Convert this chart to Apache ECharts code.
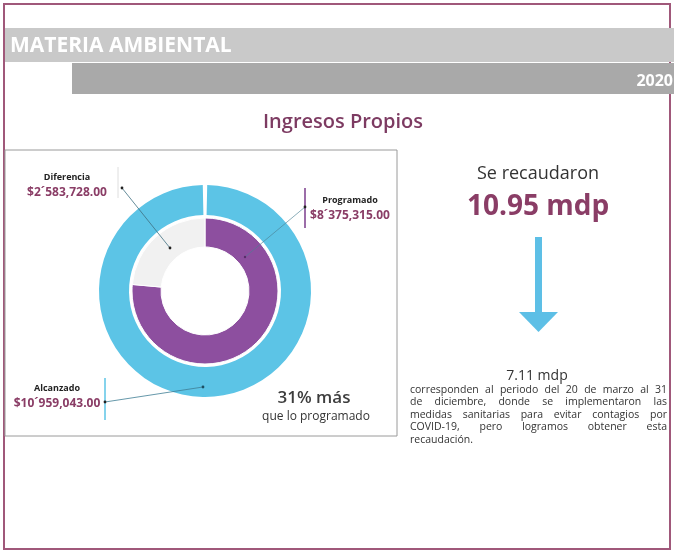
<!DOCTYPE html>
<html>
<head>
<meta charset="utf-8">
<script src="https://cdn.jsdelivr.net/npm/echarts@6/dist/echarts.min.js"></script>
<style>
html,body{margin:0;padding:0;background:#fff;}
#c{width:674px;height:554px;}
</style>
</head>
<body>
<div id="c"></div>
<script>
// ---- data ----
const innerCategories = ['Programado', 'Diferencia'];
const innerValues = [8375315, 2583728];
const outerCategories = ['Alcanzado'];
const outerValues = [10959043];
const headerTitle = 'MATERIA AMBIENTAL';
const headerYear = '2020';
const chartTitle = 'Ingresos Propios';
const summaryIntro = 'Se recaudaron';
const summaryTotal = '10.95 mdp';
const periodAmount = '7.11 mdp';
const periodLines = [
  'corresponden al periodo del 20 de marzo al 31',
  'de diciembre, donde se implementaron las',
  'medidas sanitarias para evitar contagios por',
  'COVID-19, pero logramos obtener esta',
  'recaudación.'
];

// ---- styles ----
const FONT = '"Open Sans", "Liberation Sans", sans-serif';
const CYAN = '#5cc4e6';
const PURPLE = '#8d4f9f';
const GREY = '#f1f1f1';
const MAROON = '#8a3d66';
const FRAME = '#a0587a';

function fmtMoney(v) {
  const m = Math.floor(v / 1e6);
  const r = v % 1e6;
  const th = Math.floor(r / 1000);
  const u = r % 1000;
  return '$' + m + '´' + String(th).padStart(3, '0') + ',' + String(u).padStart(3, '0') + '.00';
}
const pctMore = Math.round((outerValues[0] / innerValues[0] - 1) * 100);

const labelRich = {
  n: { fontFamily: FONT, fontSize: 9, fontWeight: 'bold', color: '#222', align: 'center', lineHeight: 15 },
  v: { fontFamily: FONT, fontSize: 12, fontWeight: 'bold', color: MAROON, align: 'center', lineHeight: 15 }
};
const labelFormatter = p => '{n|' + p.name + '}\n{v|' + fmtMoney(p.value) + '}';

const innerLabelPos = [{ x: 350, y: 208 }, { x: 67, y: 185 }];
const outerLabelPos = [{ x: 57, y: 396 }];

// ---- justified paragraph (decorative text) ----
const measureCtx = document.createElement('canvas').getContext('2d');
const PFONT_SIZE = 10.5;
measureCtx.font = PFONT_SIZE + 'px ' + FONT;
const pLeft = 410, pRight = 667, pTop = 390, pLH = 12.5;
const paraEls = [];
periodLines.forEach((line, i) => {
  const y = pTop + i * pLH;
  const words = line.split(' ');
  const last = i === periodLines.length - 1;
  if (last || words.length < 2) {
    paraEls.push({ type: 'text', x: pLeft, y: y, style: { text: line, font: PFONT_SIZE + 'px ' + FONT, fill: '#333', verticalAlign: 'middle' } });
    return;
  }
  const widths = words.map(w => measureCtx.measureText(w).width);
  const total = widths.reduce((a, b) => a + b, 0);
  const gap = (pRight - pLeft - total) / (words.length - 1);
  let x = pLeft;
  words.forEach((w, k) => {
    paraEls.push({ type: 'text', x: x, y: y, style: { text: w, font: PFONT_SIZE + 'px ' + FONT, fill: '#333', verticalAlign: 'middle' } });
    x += widths[k] + gap;
  });
});

const chart = echarts.init(document.getElementById('c'), null, { renderer: 'canvas' });

const option = {
  animation: false,
  backgroundColor: '#fff',
  graphic: [
    // frame
    { type: 'rect', z: 0, shape: { x: 4, y: 4, width: 666, height: 545 }, style: { fill: '#fff', stroke: FRAME, lineWidth: 2 } },
    // header bands
    { type: 'rect', z: 1, shape: { x: 5, y: 28, width: 669, height: 34 }, style: { fill: '#c9c9c9' } },
    { type: 'rect', z: 1, shape: { x: 72, y: 63, width: 602, height: 31 }, style: { fill: '#a9a9a9' } },
    { type: 'text', z: 2, x: 10, y: 46, style: { text: headerTitle, font: 'bold 21px ' + FONT, fill: '#fff', verticalAlign: 'middle' } },
    { type: 'text', z: 2, x: 673, y: 81, style: { text: headerYear, font: 'bold 16px ' + FONT, fill: '#fff', align: 'right', verticalAlign: 'middle' } },
    // title
    { type: 'text', z: 2, x: 343, y: 122, style: { text: chartTitle, font: '600 20px ' + FONT, fill: '#7d3b62', align: 'center', verticalAlign: 'middle' } },
    // chart box
    { type: 'rect', z: 1, shape: { x: 5, y: 150, width: 392, height: 286 }, style: { fill: 'none', stroke: '#9a9a9a', lineWidth: 1 } },
    // label side bars
    { type: 'line', z: 3, shape: { x1: 118, y1: 167, x2: 118, y2: 198 }, style: { stroke: '#dedede', lineWidth: 1 } },
    { type: 'line', z: 3, shape: { x1: 305, y1: 188, x2: 305, y2: 228 }, style: { stroke: '#7b3d8c', lineWidth: 1.5 } },
    { type: 'line', z: 3, shape: { x1: 105, y1: 378, x2: 105, y2: 420 }, style: { stroke: CYAN, lineWidth: 1.5 } },
    // leader lines
    { type: 'line', z: 20, shape: { x1: 122, y1: 188, x2: 170, y2: 248 }, style: { stroke: '#3f6f80', lineWidth: 0.8 } },
    { type: 'line', z: 20, shape: { x1: 305, y1: 207, x2: 245, y2: 257 }, style: { stroke: '#4a7f92', lineWidth: 0.8, opacity: 0.8 } },
    { type: 'line', z: 20, shape: { x1: 105, y1: 402, x2: 203, y2: 387 }, style: { stroke: '#3f7d94', lineWidth: 0.8 } },
    { type: 'circle', z: 21, shape: { cx: 122, cy: 188, r: 1.4 }, style: { fill: '#222' } },
    { type: 'circle', z: 21, shape: { cx: 170, cy: 248, r: 1.4 }, style: { fill: '#222' } },
    { type: 'circle', z: 21, shape: { cx: 305, cy: 207, r: 1.4 }, style: { fill: '#222' } },
    { type: 'circle', z: 21, shape: { cx: 245, cy: 257, r: 1.2 }, style: { fill: '#5a2d6a' } },
    { type: 'circle', z: 21, shape: { cx: 105, cy: 402, r: 1.4 }, style: { fill: '#222' } },
    { type: 'circle', z: 21, shape: { cx: 203, cy: 387, r: 1.4 }, style: { fill: '#1d4f63' } },
    // 31% más
    { type: 'text', z: 2, x: 314, y: 398, style: { text: pctMore + '% más', font: '600 17px ' + FONT, fill: '#3d3d3d', align: 'center', verticalAlign: 'middle' } },
    { type: 'text', z: 2, x: 316, y: 417, style: { text: 'que lo programado', font: '12px ' + FONT, fill: '#333', align: 'center', verticalAlign: 'middle' } },
    // right side
    { type: 'text', z: 2, x: 538, y: 174, style: { text: summaryIntro, font: '18px ' + FONT, fill: '#333', align: 'center', verticalAlign: 'middle' } },
    { type: 'text', z: 2, x: 538, y: 207, style: { text: summaryTotal, font: 'bold 28px ' + FONT, fill: MAROON, align: 'center', verticalAlign: 'middle' } },
    { type: 'rect', z: 2, shape: { x: 535, y: 237, width: 7, height: 76 }, style: { fill: '#5dbfe6' } },
    { type: 'polygon', z: 2, shape: { points: [[519, 312], [558, 312], [538.5, 332]] }, style: { fill: '#5dbfe6' } },
    { type: 'text', z: 2, x: 537, y: 376, style: { text: periodAmount, font: '14px ' + FONT, fill: '#333', align: 'center', verticalAlign: 'middle' } },
    ...paraEls.map(e => Object.assign({ z: 2 }, e))
  ],
  series: [
    {
      type: 'pie',
      silent: true,
      z: 5,
      center: [205, 291],
      radius: [76, 106],
      startAngle: 88.8,
      endAngle: -268.8,
      clockwise: true,
      itemStyle: { color: CYAN },
      label: { show: true, position: 'outside', formatter: labelFormatter, rich: labelRich, align: 'center' },
      labelLine: { show: false },
      labelLayout: p => ({ x: outerLabelPos[p.dataIndex].x, y: outerLabelPos[p.dataIndex].y, align: 'center', verticalAlign: 'middle' }),
      data: outerCategories.map((c, i) => ({ name: c, value: outerValues[i] }))
    },
    {
      type: 'pie',
      silent: true,
      z: 5,
      center: [205, 291],
      radius: [44, 73],
      startAngle: 90,
      clockwise: true,
      itemStyle: { borderColor: '#fff', borderWidth: 1 },
      label: { show: true, position: 'outside', formatter: labelFormatter, rich: labelRich, align: 'center' },
      labelLine: { show: false },
      labelLayout: p => ({ x: innerLabelPos[p.dataIndex].x, y: innerLabelPos[p.dataIndex].y, align: 'center', verticalAlign: 'middle' }),
      data: innerCategories.map((c, i) => ({ name: c, value: innerValues[i], itemStyle: { color: i === 0 ? PURPLE : GREY } }))
    }
  ]
};
chart.setOption(option);
</script>
</body>
</html>
